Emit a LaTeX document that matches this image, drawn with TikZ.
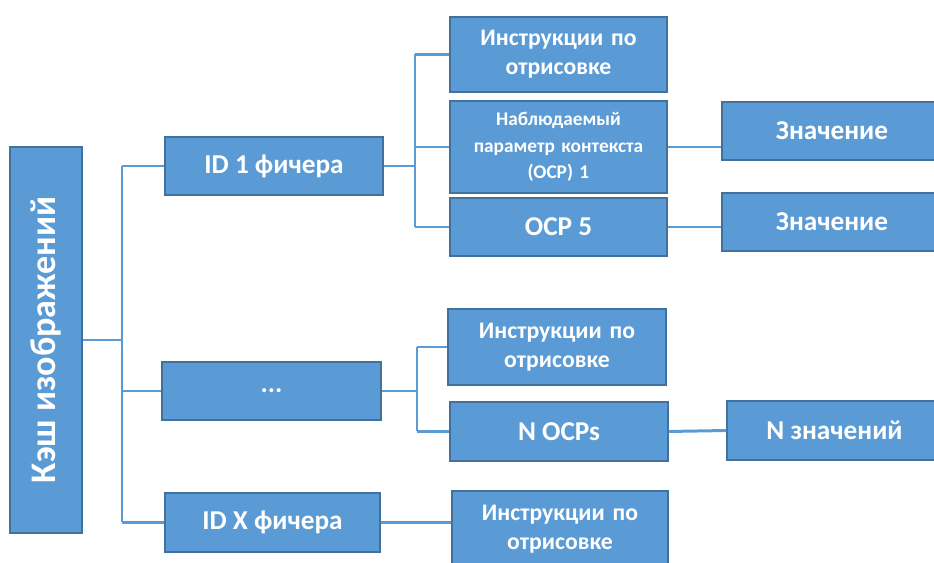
\documentclass[tikz,border=0pt]{standalone}
\usepackage{fontspec}
\setmainfont{Carlito}
\usetikzlibrary{positioning,calc}
\definecolor{boxBlue}{HTML}{5B9BD5}
\definecolor{boxEdge}{HTML}{41719C}
\tikzset{
	cbox/.style={
		draw=boxEdge,
		fill=boxBlue,
		line width=0.8pt,
		align=center,
		inner sep=2pt,
		text=white,
		font=\bfseries\fontsize{13.5}{16.5}\selectfont
	},
	bigtxt/.style={font=\bfseries\fontsize{15.5}{18}\selectfont},
	conn/.style={boxBlue, line width=1.7pt}
}

\begin{document}
\begin{tikzpicture}[x=0.02cm, y=-0.02cm]
		\useasboundingbox (0,0) rectangle (934,563);
		% root
		\node[cbox, minimum width=1.44cm, minimum height=7.72cm] (root) at (46,340) {};
		\node[rotate=90, text=white, font=\bfseries\fontsize{20.5}{24}\selectfont] (rtxt) at (root.center) {Кэш изображений};
		% level 1
		\node[cbox, bigtxt, minimum width=4.36cm, minimum height=1.16cm] (f1) at (274,166) {ID 1 фичера};
		\node[cbox, bigtxt, minimum width=4.38cm, minimum height=1.16cm] (fd) at (271.5,391) {...};
		\node[cbox, bigtxt, minimum width=4.30cm, minimum height=1.18cm] (fx) at (272.5,522.5) {ID X фичера};
		% level 2
		\node[cbox, minimum width=4.34cm, minimum height=1.50cm, text width=4.0cm] (i1) at (558.5,54.5) {Инструкции по\\отрисовке};
		\node[cbox, minimum width=4.34cm, minimum height=1.84cm, text width=4.0cm, font=\bfseries\fontsize{11}{15}\selectfont] (o1) at (558.5,147) {Наблюдаемый\\параметр контекста\\(OCP) 1};
		\node[cbox, bigtxt, minimum width=4.34cm, minimum height=1.16cm] (o5) at (558.5,227) {OCP 5};
		\node[cbox, minimum width=4.36cm, minimum height=1.52cm, text width=4.0cm] (i2) at (557,347) {Инструкции по\\отрисовке};
		\node[cbox, bigtxt, minimum width=4.36cm, minimum height=1.18cm] (on) at (559,431.5) {N OCPs};
		\node[cbox, minimum width=4.32cm, minimum height=1.52cm, text width=4.0cm] (ix) at (560,529) {Инструкции по\\отрисовке};
		% level 3
		\node[cbox, bigtxt, minimum width=4.40cm, minimum height=1.16cm] (v1) at (832,131) {Значение};
		\node[cbox, bigtxt, minimum width=4.40cm, minimum height=1.16cm] (v5) at (832,222) {Значение};
		\node[cbox, bigtxt, minimum width=4.30cm, minimum height=1.18cm] (vn) at (834.5,430.5) {N значений};
		% junctions
		\coordinate (j0) at (122,340);
		\coordinate (j1) at (415,166);
		\coordinate (j2) at (417,391);
		% connectors
		\draw[conn] (root.east) -- (j0);
		\draw[conn] (j0 |- f1.west) -- (j0 |- fx.west);
		\draw[conn] (j0 |- f1.west) -- (f1.west);
		\draw[conn] (j0 |- fd.west) -- (fd.west);
		\draw[conn] (j0 |- fx.west) -- (fx.west);
		\draw[conn] (f1.east) -- (j1);
		\draw[conn] (j1 |- i1.west) -- (j1 |- o5.west);
		\draw[conn] (j1 |- i1.west) -- (i1.west);
		\draw[conn] (j1 |- o1.west) -- (o1.west);
		\draw[conn] (j1 |- o5.west) -- (o5.west);
		\draw[conn] (fd.east) -- (j2);
		\draw[conn] (j2 |- i2.west) -- (j2 |- on.west);
		\draw[conn] (j2 |- i2.west) -- (i2.west);
		\draw[conn] (j2 |- on.west) -- (on.west);
		\draw[conn] (fx.east) -- (ix.west |- fx.east);
		\draw[conn] (o1.east) -- (v1.west |- o1.east);
		\draw[conn] (o5.east) -- (v5.west |- o5.east);
		\draw[conn] (on.east) -- (vn.west);
	\end{tikzpicture}
\end{document}
